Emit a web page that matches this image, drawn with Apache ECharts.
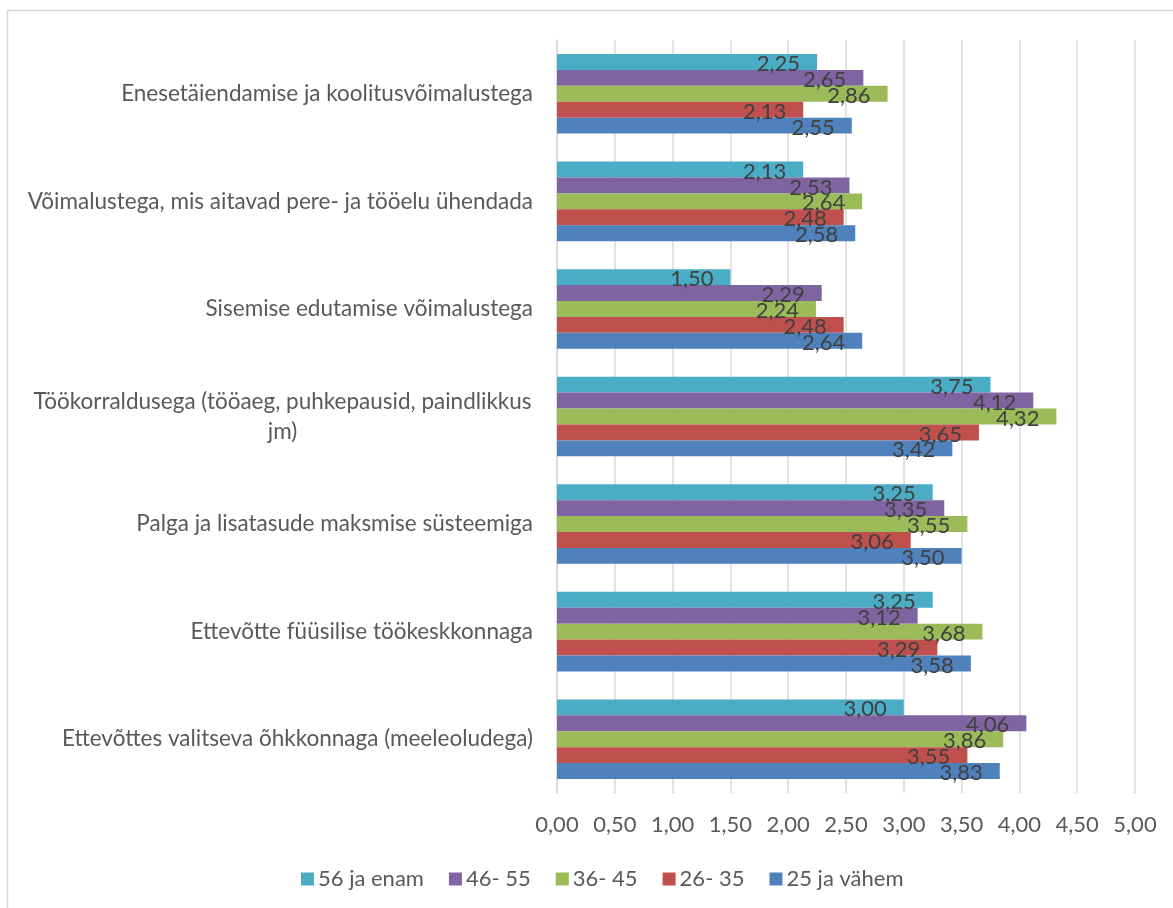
<!DOCTYPE html>
<html>
<head>
<meta charset="utf-8">
<script src="https://cdn.jsdelivr.net/npm/echarts@6/dist/echarts.min.js"></script>
<style>
  html, body { margin: 0; padding: 0; background: #fff; }
  #chart { width: 1173px; height: 908px; }
</style>
</head>
<body>
<div id="chart"></div>
<script>
// kategooriad ülevalt alla
const categories = [
  'Enesetäiendamise ja koolitusvõimalustega',
  'Võimalustega, mis aitavad pere- ja tööelu ühendada',
  'Sisemise edutamise võimalustega',
  'Töökorraldusega (tööaeg, puhkepausid, paindlikkus\njm)',
  'Palga ja lisatasude maksmise süsteemiga',
  'Ettevõtte füüsilise töökeskkonnaga',
  'Ettevõttes valitseva õhkkonnaga (meeleoludega)'
];

const seriesNames = ['56 ja enam', '46- 55', '36- 45', '26- 35', '25 ja vähem'];

const age56 = [2.25, 2.13, 1.50, 3.75, 3.25, 3.25, 3.00];
const age46 = [2.65, 2.53, 2.29, 4.12, 3.35, 3.12, 4.06];
const age36 = [2.86, 2.64, 2.24, 4.32, 3.55, 3.68, 3.86];
const age26 = [2.13, 2.48, 2.48, 3.65, 3.06, 3.29, 3.55];
const age25 = [2.55, 2.58, 2.64, 3.42, 3.50, 3.58, 3.83];

const colors = ['#4BACC6', '#8064A2', '#9BBB59', '#C0504D', '#4F81BD'];

const FONT = 'Lato';
const fmt = v => v.toFixed(2).replace('.', ',');

const chart = echarts.init(document.getElementById('chart'));

const makeSeries = (name, data, i) => ({
  name: name,
  type: 'bar',
  data: data,
  barGap: '0%',
  barCategoryGap: '26%',
  itemStyle: { color: colors[i] },
  label: {
    show: true,
    position: 'insideRight',
    distance: 17,
    offset: [0, 2],
    formatter: p => fmt(p.value),
    color: '#404040',
    fontFamily: FONT,
    fontSize: 22
  },
  emphasis: { disabled: true }
});

chart.setOption({
  animation: false,
  color: colors,
  graphic: [{
    type: 'rect',
    shape: { x: 7.5, y: 10.5, width: 1200, height: 950 },
    style: { fill: 'none', stroke: '#d9d9d9', lineWidth: 1.5 },
    silent: true
  }],
  grid: { left: 557, right: 38, top: 40, bottom: 115 },
  xAxis: {
    type: 'value',
    min: 0,
    max: 5,
    interval: 0.5,
    axisLine: { show: false },
    axisTick: { show: false },
    splitLine: { lineStyle: { color: '#d9d9d9', width: 1.5 } },
    axisLabel: {
      formatter: v => fmt(v),
      color: '#595959',
      fontFamily: FONT,
      fontSize: 22,
      margin: 21
    }
  },
  yAxis: {
    type: 'category',
    inverse: true,
    data: categories,
    axisLine: { lineStyle: { color: '#d9d9d9', width: 1.5 } },
    axisTick: { show: false },
    axisLabel: {
      color: '#595959',
      fontFamily: FONT,
      fontSize: 22.5,
      margin: 24,
      lineHeight: 30,
      formatter: v => v.indexOf('\n') >= 0
        ? v.split('\n').map(l => '{c|' + l + '}').join('\n')
        : v,
      rich: {
        c: {
          width: 501,
          align: 'center',
          color: '#595959',
          fontFamily: FONT,
          fontSize: 22.5,
          lineHeight: 30
        }
      }
    }
  },
  legend: {
    data: seriesNames,
    left: 296,
    top: 863,
    itemWidth: 13,
    itemHeight: 13,
    itemGap: 25,
    icon: 'rect',
    textStyle: { color: '#595959', fontFamily: FONT, fontSize: 22, padding: [0, 0, 0, -1] }
  },
  series: [
    makeSeries(seriesNames[0], age56, 0),
    makeSeries(seriesNames[1], age46, 1),
    makeSeries(seriesNames[2], age36, 2),
    makeSeries(seriesNames[3], age26, 3),
    makeSeries(seriesNames[4], age25, 4)
  ]
});
</script>
</body>
</html>
